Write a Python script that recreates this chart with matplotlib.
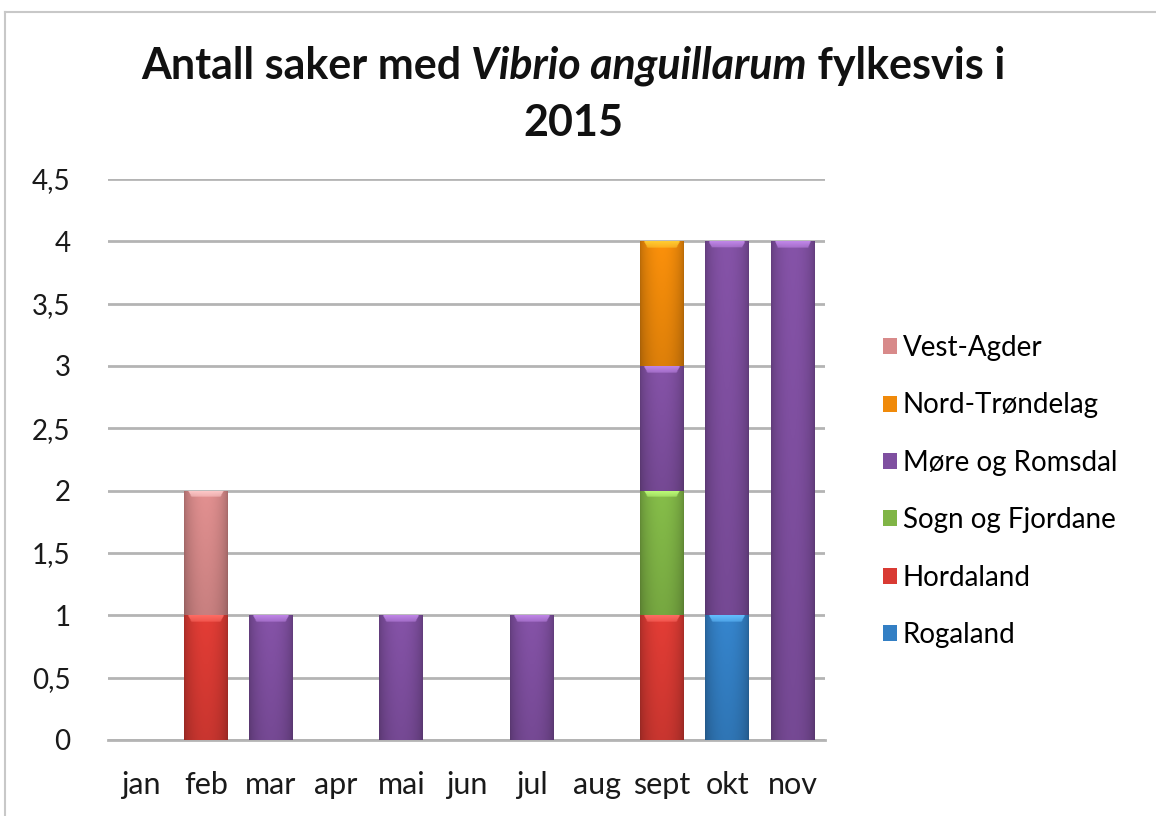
import matplotlib
matplotlib.use("Agg")
import matplotlib.pyplot as plt
import numpy as np
from matplotlib.offsetbox import TextArea, HPacker, VPacker, AnchoredOffsetbox
from matplotlib.colors import to_rgb

months = ["jan", "feb", "mar", "apr", "mai", "jun", "jul", "aug", "sept", "okt", "nov"]
# stacked bottom -> top
rogaland       = [0, 0, 0, 0, 0, 0, 0, 0, 0, 1, 0]
hordaland      = [0, 1, 0, 0, 0, 0, 0, 0, 1, 0, 0]
sogn_fjordane  = [0, 0, 0, 0, 0, 0, 0, 0, 1, 0, 0]
more_romsdal   = [0, 0, 1, 0, 1, 0, 1, 0, 1, 3, 4]
nord_trondelag = [0, 0, 0, 0, 0, 0, 0, 0, 1, 0, 0]
vest_agder     = [0, 1, 0, 0, 0, 0, 0, 0, 0, 0, 0]

series_names = ["Rogaland", "Hordaland", "Sogn og Fjordane", "Møre og Romsdal",
                "Nord-Trøndelag", "Vest-Agder"]
series_values = [rogaland, hordaland, sogn_fjordane, more_romsdal, nord_trondelag, vest_agder]
series_colors = ["#337fc4", "#d93a33", "#80b546", "#7f4fa0", "#f08a0a", "#d88a8a"]

yticks = [0, 0.5, 1, 1.5, 2, 2.5, 3, 3.5, 4, 4.5]
ytick_labels = ["0", "0,5", "1", "1,5", "2", "2,5", "3", "3,5", "4", "4,5"]

plt.rcParams['font.family'] = ['Lato', 'DejaVu Sans']

fig = plt.figure(figsize=(11.56, 8.16), dpi=100)
fig.patch.set_facecolor("white")
# chart frame (top and left visible edges)
fig.add_artist(plt.Line2D([5/1156, 1], [1-12/816, 1-12/816], transform=fig.transFigure,
                          color="#c8c8c8", lw=1.5))
fig.add_artist(plt.Line2D([5/1156, 5/1156], [0, 1-12/816], transform=fig.transFigure,
                          color="#c8c8c8", lw=1.5))

ax = fig.add_axes([108/1156, 1-740/816, (825-108)/1156, (740-179)/816])
x = np.arange(len(months))
bottom = np.zeros(len(months))
handles = []
for name, vals, col in zip(series_names, series_values, series_colors):
    vals = np.array(vals, dtype=float)
    bars = ax.bar(x, vals, width=0.67, bottom=bottom, color=col, label=name,
                  edgecolor="none", zorder=3)
    handles.append(bars)
    base = np.array(to_rgb(col))
    for p, v in zip(bars.patches, vals):
        if v <= 0:
            continue
        x0, y0 = p.get_x(), p.get_y()
        w, h = p.get_width(), p.get_height()
        nx, ny = 60, 300
        t = np.linspace(0, 1, nx)
        hfac = 0.78 + 0.27 * np.sin(np.pi * t) ** 0.6
        hfac = np.minimum(hfac, 1.05)
        img = np.ones((ny, nx, 3)) * base
        img = img * hfac[None, :, None]
        vy = np.linspace(1.0, 0.88, ny)
        img = img * vy[:, None, None]
        # top bevel highlight (rounded)
        cap = max(int(ny * 0.055 / h), 3)
        hl = np.clip(base * 1.2 + 0.15, 0, 1)
        for r in range(cap):
            frac = r / cap
            inset = int(nx * (0.10 + 0.08 * frac))
            blend = 1.0 - 0.5 * frac
            img[r, inset:nx - inset, :] = img[r, inset:nx - inset, :] * (1 - blend) + hl * blend
        img = np.clip(img, 0, 1)
        im = ax.imshow(img, extent=[x0, x0 + w, y0, y0 + h], origin="upper",
                       aspect="auto", zorder=4, interpolation="bilinear")
        im.set_clip_path(p)
    bottom += vals

ax.set_xlim(-0.5, len(months) - 0.5)
ax.set_ylim(0, 4.5)
ax.set_yticks(yticks)
ax.set_yticklabels(ytick_labels, fontsize=20, color="#1a1a1a")
ax.set_xticks(x)
ax.set_xticklabels(months, fontsize=22, color="#1a1a1a")
ax.tick_params(axis="both", length=0)
ax.tick_params(axis="y", pad=27)
ax.tick_params(axis="x", pad=22)
ax.grid(axis="y", color="#b4b4b4", lw=2, zorder=1)
ax.set_axisbelow(True)
for s in ["top", "right", "left"]:
    ax.spines[s].set_visible(False)
ax.spines["bottom"].set_color("#b4b4b4")
ax.spines["bottom"].set_linewidth(2)

# legend (reverse order like reference)
leg = fig.legend([h for h in handles[::-1]], series_names[::-1],
                 loc="upper left", bbox_to_anchor=(872/1156, 1-324/816),
                 frameon=False, fontsize=20, handlelength=0.5, handleheight=0.5,
                 handletextpad=0.2, labelspacing=1.13, borderaxespad=0)

# title with italic species name
fs = 31
t1 = TextArea("Antall saker med ", textprops=dict(fontsize=fs, fontweight="bold", color="#111111"))
t2 = TextArea("Vibrio anguillarum", textprops=dict(fontsize=fs, fontweight="bold", fontstyle="italic", color="#111111"))
t3 = TextArea(" fylkesvis i", textprops=dict(fontsize=fs, fontweight="bold", color="#111111"))
line1 = HPacker(children=[t1, t2, t3], align="baseline", pad=0, sep=0)
line2 = TextArea("2015", textprops=dict(fontsize=fs, fontweight="bold", color="#111111"))
box = VPacker(children=[line1, line2], align="center", pad=0, sep=12)
anch = AnchoredOffsetbox(loc="upper center", child=box, frameon=False,
                         bbox_to_anchor=(573/1156, 1-46/816), bbox_transform=fig.transFigure,
                         borderpad=0, pad=0)
fig.add_artist(anch)

fig.savefig("out.png", dpi=100, facecolor="white")
